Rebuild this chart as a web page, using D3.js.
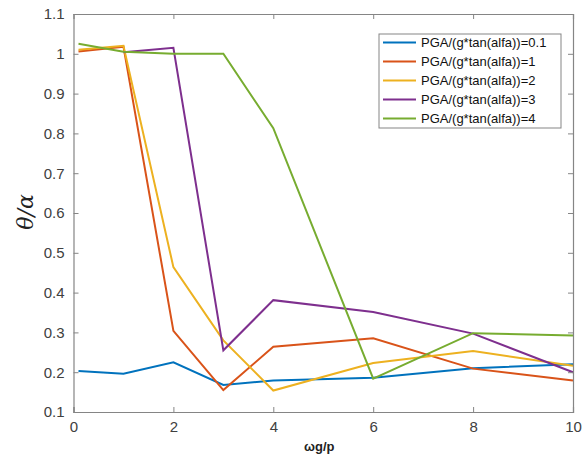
<!DOCTYPE html>
<html>
<head>
<meta charset="utf-8">
<script src="https://cdn.jsdelivr.net/npm/d3@7"></script>
<style>
body { margin: 0; background: #fff; }
svg { font-family: Arial, "Liberation Sans", sans-serif; }
</style>
</head>
<body>
<div class="datavis"><svg></svg></div>
<script>
width = 583
height = 457

var margin = {
    top: 14,
    right: 7,
    bottom: 45,
    left: 73.5
}

// valores (null = sin dato)
var xVals = [0.1, 1, 2, 3, 4, 6, 8, 10]
var seriesNames = ["PGA/(g*tan(alfa))=0.1", "PGA/(g*tan(alfa))=1", "PGA/(g*tan(alfa))=2", "PGA/(g*tan(alfa))=3", "PGA/(g*tan(alfa))=4"]
var serie01 = [0.203, 0.196, 0.225, 0.168, 0.179, 0.186, 0.210, 0.220]
var serie1 = [1.006, 1.018, 0.304, 0.155, 0.264, 0.285, 0.209, 0.179]
var serie2 = [1.010, 1.020, 0.464, 0.280, 0.154, 0.223, 0.253, 0.216]
var serie3 = [null, 1.004, 1.015, 0.255, 0.381, 0.351, 0.297, 0.200]
var serie4 = [1.025, 1.005, 1.000, 1.000, 0.813, 0.184, 0.298, 0.292]
var colores = ["#0072BD", "#D95319", "#EDB120", "#7E2F8E", "#77AC30"]
var xTicks = [0, 2, 4, 6, 8, 10]
var yTicks = [0.1, 0.2, 0.3, 0.4, 0.5, 0.6, 0.7, 0.8, 0.9, 1, 1.1]

var todas = [serie01, serie1, serie2, serie3, serie4]

var x = d3.scaleLinear().domain([0, 10]).range([margin.left, width - margin.right - 3])
var y = d3.scaleLinear().domain([0.1, 1.1]).range([height - margin.bottom, margin.top])

var svg = d3.select(".datavis > svg")
    .attr("width", width)
    .attr("height", height)

var ejeColor = "#858585"
var textoColor = "#404040"

// lineas
var linea = d3.line()
    .defined(d => d != null)
    .x((d, i) => x(xVals[i]))
    .y(d => y(d))

svg.selectAll('.serie').data(todas).join('path').attr('class', 'serie')
    .attr("d", d => linea(d))
    .attr("fill", "none")
    .attr("stroke", (d, i) => colores[i])
    .attr("stroke-width", 2)
    .attr("stroke-linejoin", "miter")

// ejes (caja con ticks en los 4 lados, como matlab)
var xAxis = g => g
    .attr("transform", `translate(0,${y(0.1)})`)
    .call(d3.axisBottom(x).tickValues(xTicks).tickSize(-5).tickPadding(9).tickFormat(d3.format("d")))
var xAxisTop = g => g
    .attr("transform", `translate(0,${y(1.1)})`)
    .call(d3.axisTop(x).tickValues(xTicks).tickSize(-5).tickFormat(""))
var yAxis = g => g
    .attr("transform", `translate(${x(0)},0)`)
    .call(d3.axisLeft(y).tickValues(yTicks).tickSize(-5).tickPadding(9).tickFormat(d => d3.format("")(+d.toFixed(1))))
var yAxisRight = g => g
    .attr("transform", `translate(${x(10)},0)`)
    .call(d3.axisRight(y).tickValues(yTicks).tickSize(-5).tickFormat(""))

svg.append('g').attr('class', 'xaxis').call(xAxis)
svg.append('g').attr('class', 'xaxis2').call(xAxisTop)
svg.append('g').attr('class', 'yaxis').call(yAxis)
svg.append('g').attr('class', 'yaxis2').call(yAxisRight)

svg.selectAll(".domain").attr("stroke", ejeColor).attr("stroke-width", 1.2)
svg.selectAll(".tick line").attr("stroke", ejeColor)
svg.selectAll(".tick text").attr("fill", textoColor).style("font-size", "15px")
svg.selectAll(".xaxis2 .tick:first-of-type, .xaxis2 .tick:last-of-type").remove()
svg.selectAll(".yaxis2 .tick:first-of-type, .yaxis2 .tick:last-of-type").remove()

// titulos de ejes
svg.append("text")
    .attr("x", x(5) - 4)
    .attr("y", 451)
    .attr("text-anchor", "middle")
    .attr("fill", "#222")
    .style("font-size", "13px")
    .style("font-weight", "bold")
    .text("ωg/p")

svg.append("text")
    .attr("transform", `translate(33,212) rotate(-90)`)
    .attr("text-anchor", "middle")
    .attr("fill", "#222")
    .style("font-family", "'DejaVu Serif', 'Liberation Serif', serif")
    .style("font-style", "italic")
    .style("font-size", "22px")
    .text("θ/α")

// leyenda
var leg = svg.append("g").attr("class", "leyenda")
leg.append("rect")
    .attr("x", 379)
    .attr("y", 34)
    .attr("width", 182)
    .attr("height", 94)
    .attr("fill", "#fff")
    .attr("stroke", ejeColor)
    .attr("stroke-width", 1)

var filas = leg.selectAll(".fila").data(seriesNames).join("g").attr("class", "fila")
    .attr("transform", (d, i) => `translate(0,${42.5 + i * 19})`)
filas.append("line")
    .attr("x1", 383).attr("x2", 416)
    .attr("stroke", (d, i) => colores[i])
    .attr("stroke-width", 2)
filas.append("text")
    .attr("x", 421)
    .attr("dy", "0.35em")
    .attr("fill", "#111")
    .style("font-size", "13px")
    .text(d => d)
</script>
</body>
</html>
